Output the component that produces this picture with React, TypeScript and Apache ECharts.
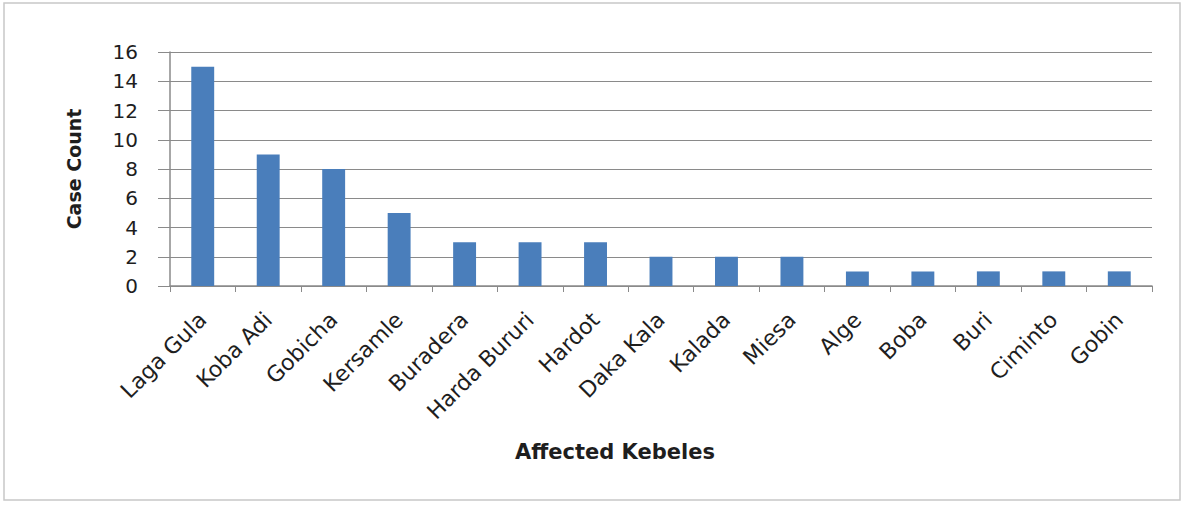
import React, { useEffect, useRef } from "react";
import * as echarts from "echarts";

const kebeles = [
  "Laga Gula", "Koba Adi", "Gobicha", "Kersamle", "Buradera", "Harda Bururi", "Hardot",
  "Daka Kala", "Kalada", "Miesa", "Alge", "Boba", "Buri", "Ciminto", "Gobin",
];
const caseCounts = [15, 9, 8, 5, 3, 3, 3, 2, 2, 2, 1, 1, 1, 1, 1];
const yTicks = [0, 2, 4, 6, 8, 10, 12, 14, 16];

const FONT = "'DejaVu Sans', sans-serif";
const TEXT = "#1e1e1e";
const AXIS = "#8a8a8a";

export default function App() {
  const ref = useRef<HTMLDivElement>(null);

  useEffect(() => {
    if (!ref.current) return;
    const chart = echarts.init(ref.current, undefined, { renderer: "svg" });
    chart.setOption({
      animation: false,
      backgroundColor: "#ffffff",
      graphic: [
        {
          type: "rect",
          shape: { x: 4, y: 3, width: 1176, height: 497 },
          style: { fill: "none", stroke: "#c8c8c8", lineWidth: 1.5 },
          silent: true,
        },
      ],
      grid: { left: 170, right: 32, top: 52, bottom: 219, containLabel: false },
      xAxis: {
        type: "category",
        data: kebeles,
        boundaryGap: true,
        name: "Affected Kebeles",
        nameLocation: "middle",
        nameGap: 155,
        nameTextStyle: {
          fontFamily: FONT,
          fontSize: 21,
          fontWeight: "bold",
          color: TEXT,
          padding: [0, 92, 0, 0],
        },
        axisLine: { lineStyle: { color: AXIS, width: 1.5 } },
        axisTick: { show: true, alignWithLabel: false, length: 6, lineStyle: { color: AXIS } },
        axisLabel: {
          rotate: 45,
          interval: 0,
          margin: 30,
          fontFamily: FONT,
          fontSize: 22,
          color: TEXT,
        },
      },
      yAxis: {
        type: "value",
        min: yTicks[0],
        max: yTicks[yTicks.length - 1],
        interval: 2,
        name: "Case Count",
        nameLocation: "middle",
        nameGap: 87,
        nameRotate: 90,
        nameTextStyle: { fontFamily: FONT, fontSize: 19, fontWeight: "bold", color: TEXT },
        axisLine: { show: true, lineStyle: { color: AXIS, width: 1.5 } },
        axisTick: { show: true, length: 12, lineStyle: { color: AXIS } },
        splitLine: { show: true, lineStyle: { color: AXIS, width: 1.2 } },
        axisLabel: {
          margin: 32,
          fontFamily: FONT,
          fontSize: 20,
          color: TEXT,
        },
      },
      series: [
        {
          type: "bar",
          data: caseCounts,
          barWidth: "35%",
          itemStyle: { color: "#4a7ebb" },
        },
      ],
    });
    return () => chart.dispose();
  }, []);

  return (
    <div
      ref={ref}
      style={{ position: "fixed", left: 0, top: 0, width: 1184, height: 505, background: "#fff" }}
    />
  );
}
